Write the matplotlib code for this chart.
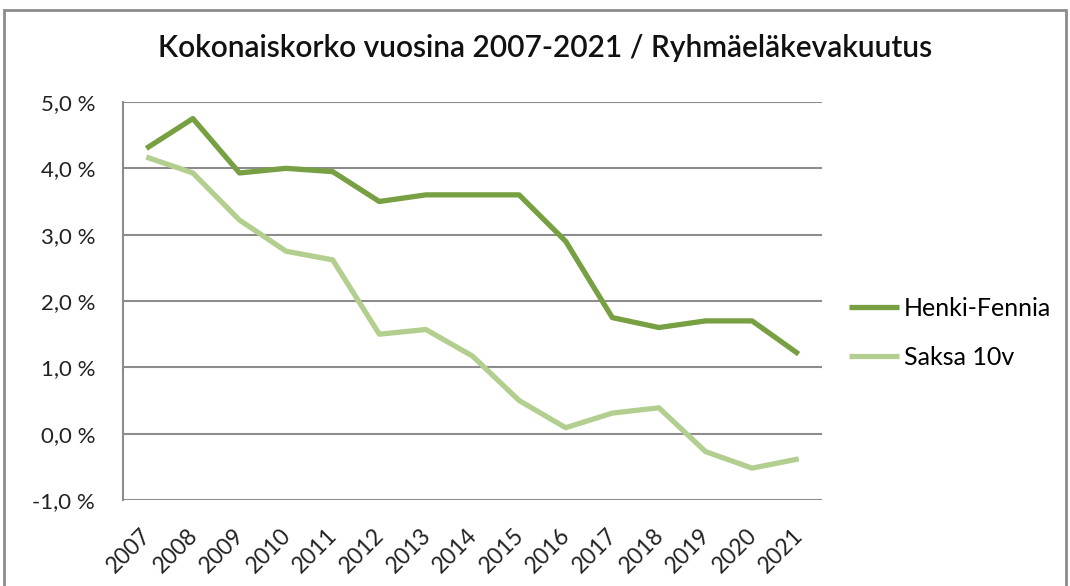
#!/usr/bin/env python3

import matplotlib
import matplotlib.pyplot as plt
import matplotlib.transforms as mtransforms
from matplotlib.patches import Rectangle

matplotlib.use("Agg")

years = [str(y) for y in range(2007, 2022)]
henki_fennia = [4.3, 4.75, 3.93, 4.0, 3.95, 3.5, 3.6, 3.6, 3.6, 2.9, 1.75, 1.6, 1.7, 1.7, 1.2]
saksa_10v = [4.17, 3.93, 3.22, 2.75, 2.62, 1.5, 1.57, 1.17, 0.5, 0.09, 0.31, 0.39, -0.27, -0.52, -0.38]
y_ticks = [-1, 0, 1, 2, 3, 4, 5]

DARK = "#77a043"
LIGHT = "#b3cf8f"
GRID = "#8c8c8c"

plt.rcParams["font.family"] = ["Lato", "DejaVu Sans"]

fig = plt.figure(figsize=(10.7, 5.86), dpi=100)
fig.patches.append(Rectangle((4 / 1070, -0.05), 1062 / 1070, 1 - 10 / 586 + 0.05,
                             transform=fig.transFigure, fill=False,
                             edgecolor="#8c8c8c", linewidth=2))
ax = fig.add_axes([123 / 1070, 1 - 500 / 586, 699 / 1070, 398 / 586])

x = range(len(years))
ax.plot(x, henki_fennia, color=DARK, linewidth=3.8, label="Henki-Fennia",
        solid_joinstyle="round", solid_capstyle="butt")
ax.plot(x, saksa_10v, color=LIGHT, linewidth=3.8, label="Saksa 10v",
        solid_joinstyle="round", solid_capstyle="butt")

ax.set_xlim(-0.5, len(years) - 0.5)
ax.set_ylim(-1, 5)
ax.set_yticks(y_ticks)
ax.set_yticklabels([f"{v:.1f}".replace(".", ",") + " %" for v in y_ticks], fontsize=16)
ax.set_xticks(list(x))
ax.set_xticklabels(years, rotation=45, ha="right", rotation_mode="anchor", fontsize=16.5)
ax.tick_params(axis="both", length=0, colors="#222222")
ax.tick_params(axis="y", pad=20)
ax.tick_params(axis="x", pad=18)

# nudge rotated year labels so their ends sit under the points
shift = mtransforms.ScaledTranslation(-6 / 100, 0, fig.dpi_scale_trans)
for lbl in ax.get_xticklabels():
    lbl.set_transform(lbl.get_transform() + shift)

for v in y_ticks:
    ax.axhline(v, color=GRID, linewidth=1.5, zorder=0)
for side in ["top", "right", "bottom"]:
    ax.spines[side].set_visible(False)
ax.spines["left"].set_color(GRID)
ax.spines["left"].set_linewidth(1.5)

fig.text(545 / 1070, 1 - 48 / 586, "Kokonaiskorko vuosina 2007-2021 / Ryhmäeläkevakuutus",
         ha="center", va="center", fontsize=21.5, fontweight="semibold", color="#111111")

fig.legend(loc="upper left", bbox_to_anchor=(826 / 1070, 1 - 274 / 586), frameon=False,
           fontsize=18, handlelength=2.0, handletextpad=0.2, labelspacing=1.05)

fig.savefig("out.png", dpi=100)
